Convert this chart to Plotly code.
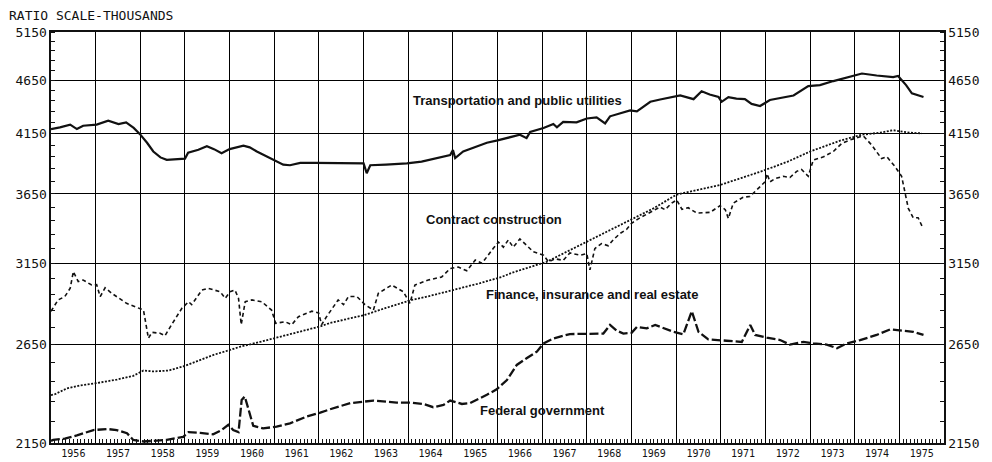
import numpy as np
import pandas as pd
import plotly.graph_objects as go

# ---------------- data (decimal year, thousands of employees) ----------------
year_labels = [str(y) for y in range(1956, 1976)]
y_ticks = [2150, 2650, 3150, 3650, 4150, 4650, 5150]
y_minor = list(range(2150, 5151, 100))

trans_t = [1956.0, 1956.2, 1956.43, 1956.58, 1956.72, 1957.02, 1957.28, 1957.51, 1957.68, 1957.85,
           1957.99, 1958.15, 1958.29, 1958.45, 1958.59, 1958.8, 1959.0, 1959.07, 1959.3, 1959.49,
           1959.65, 1959.82, 1960.0, 1960.31, 1960.45, 1960.61, 1960.8, 1960.98, 1961.2, 1961.35,
           1961.58, 1961.9, 1962.25, 1962.5, 1962.75, 1963.0, 1963.07, 1963.15, 1963.5, 1963.97,
           1964.3, 1964.49, 1964.75, 1964.94, 1965.0, 1965.05, 1965.23, 1965.5, 1965.76, 1966.0,
           1966.3, 1966.5, 1966.65, 1966.73, 1967.03, 1967.25, 1967.33, 1967.47, 1967.77, 1968.0,
           1968.22, 1968.41, 1968.52, 1968.75, 1968.97, 1969.12, 1969.42, 1969.64, 1969.85, 1970.09,
           1970.39, 1970.57, 1970.75, 1970.95, 1971.02, 1971.17, 1971.35, 1971.54, 1971.69, 1971.88,
           1972.1, 1972.35, 1972.63, 1972.96, 1973.22, 1973.52, 1973.82, 1974.04, 1974.16, 1974.49,
           1974.86, 1974.97, 1975.15, 1975.28, 1975.54]
trans_v = [4190, 4205, 4230, 4190, 4220, 4230, 4265, 4235, 4250, 4200,
           4145, 4070, 3995, 3945, 3925, 3930, 3935, 3985, 4010, 4040,
           4015, 3980, 4015, 4045, 4030, 3995, 3960, 3925, 3885, 3880,
           3900, 3900, 3900, 3895, 3900, 3895, 3815, 3880, 3885, 3895,
           3910, 3925, 3950, 3965, 4008, 3940, 3995, 4030, 4070, 4090,
           4120, 4140, 4110, 4165, 4200, 4235, 4205, 4255, 4250, 4285,
           4295, 4240, 4305, 4330, 4360, 4350, 4440, 4462, 4480, 4500,
           4465, 4540, 4510, 4485, 4440, 4485, 4470, 4465, 4420, 4400,
           4457, 4480, 4500, 4590, 4600, 4640, 4675, 4695, 4715, 4695,
           4680, 4690, 4600, 4520, 4485]

constr_t = [1956.0, 1956.16, 1956.31, 1956.43, 1956.5, 1956.61, 1956.72, 1956.91, 1957.02, 1957.1,
            1957.21, 1957.36, 1957.69, 1957.95, 1958.07, 1958.18, 1958.26, 1958.44, 1958.55, 1958.7,
            1958.93, 1959.08, 1959.15, 1959.38, 1959.52, 1959.79, 1959.9, 1960.01, 1960.12, 1960.2,
            1960.26, 1960.35, 1960.5, 1960.72, 1960.94, 1961.03, 1961.24, 1961.39, 1961.54, 1961.84,
            1961.99, 1962.06, 1962.17, 1962.43, 1962.55, 1962.66, 1962.85, 1963.03, 1963.22, 1963.33,
            1963.63, 1963.89, 1964.04, 1964.15, 1964.45, 1964.75, 1964.94, 1965.12, 1965.31, 1965.5,
            1965.65, 1965.9, 1966.02, 1966.13, 1966.24, 1966.35, 1966.5, 1966.8, 1967.03, 1967.14,
            1967.29, 1967.47, 1967.62, 1967.85, 1968.0, 1968.07, 1968.18, 1968.33, 1968.48, 1968.59,
            1968.74, 1968.89, 1969.0, 1969.19, 1969.41, 1969.64, 1969.75, 1969.9, 1970.01, 1970.13,
            1970.27, 1970.46, 1970.76, 1970.98, 1971.1, 1971.17, 1971.28, 1971.5, 1971.65, 1971.84,
            1971.99, 1972.04, 1972.1, 1972.21, 1972.4, 1972.55, 1972.7, 1972.81, 1972.96, 1973.07,
            1973.3, 1973.52, 1973.71, 1973.89, 1974.04, 1974.19, 1974.38, 1974.6, 1974.72, 1974.9,
            1975.05, 1975.2, 1975.31, 1975.42, 1975.52]
constr_v = [2845, 2914, 2935, 2987, 3095, 3030, 3040, 3008, 3010, 2935,
            2990, 2955, 2893, 2863, 2852, 2686, 2720, 2715, 2700, 2765,
            2863, 2903, 2885, 2976, 2987, 2965, 2924, 2965, 2976, 2924,
            2765, 2903, 2914, 2903, 2852, 2773, 2782, 2765, 2812, 2845,
            2835, 2765, 2812, 2914, 2885, 2935, 2935, 2885, 2852, 2955,
            3008, 2965, 2893, 3008, 3040, 3060, 3115, 3125, 3100, 3172,
            3150, 3250, 3295, 3260, 3310, 3260, 3317, 3228, 3205, 3160,
            3180, 3170, 3220, 3205, 3215, 3106, 3250, 3285, 3270, 3310,
            3355, 3385, 3430, 3470, 3510, 3550, 3530, 3580, 3604, 3533,
            3545, 3505, 3510, 3560, 3530, 3465, 3580, 3625, 3630, 3695,
            3745, 3810, 3745, 3770, 3790, 3780, 3830, 3845, 3790, 3923,
            3950, 3995, 4065, 4094, 4110, 4130, 4050, 3935, 3950, 3870,
            3790, 3540, 3470, 3470, 3400]

fin_t = [1956.0, 1956.09, 1956.35, 1956.65, 1957.02, 1957.47, 1957.84, 1958.07, 1958.29, 1958.63,
         1958.96, 1959.34, 1959.63, 1960.01, 1960.23, 1960.68, 1961.05, 1961.58, 1962.03, 1962.25,
         1962.6, 1963.03, 1963.5, 1964.08, 1964.5, 1965.01, 1965.61, 1966.09, 1966.35, 1967.1,
         1967.5, 1968.0, 1968.5, 1969.0, 1969.49, 1970.01, 1970.46, 1970.98, 1971.45, 1971.95,
         1972.5, 1973.0, 1973.67, 1974.16, 1974.57, 1974.86, 1975.24, 1975.5]
fin_v = [2380, 2385, 2414, 2430, 2442, 2460, 2480, 2508, 2503, 2508,
         2530, 2565, 2592, 2620, 2638, 2665, 2690, 2725, 2755, 2775,
         2795, 2823, 2865, 2914, 2940, 2976, 3020, 3060, 3090, 3160,
         3220, 3295, 3375, 3454, 3540, 3645, 3681, 3720, 3775, 3835,
         3910, 3995, 4088, 4140, 4158, 4180, 4158, 4152]

fed_t = [1956.0, 1956.05, 1956.31, 1956.58, 1956.95, 1957.25, 1957.47, 1957.7, 1957.84, 1958.07,
         1958.59, 1958.96, 1959.08, 1959.34, 1959.63, 1959.82, 1959.97, 1960.08, 1960.2, 1960.27,
         1960.34, 1960.42, 1960.53, 1960.75, 1961.05, 1961.35, 1961.73, 1962.03, 1962.25, 1962.7,
         1963.0, 1963.22, 1963.74, 1964.04, 1964.34, 1964.56, 1964.79, 1964.94, 1965.2, 1965.38,
         1965.76, 1965.98, 1966.21, 1966.43, 1966.65, 1966.88, 1967.03, 1967.25, 1967.62, 1968.0,
         1968.37, 1968.52, 1968.67, 1968.82, 1969.0, 1969.12, 1969.34, 1969.53, 1969.64, 1969.94,
         1970.16, 1970.35, 1970.5, 1970.72, 1971.13, 1971.47, 1971.66, 1971.77, 1972.03, 1972.33,
         1972.55, 1972.85, 1973.07, 1973.37, 1973.6, 1973.82, 1974.12, 1974.49, 1974.79, 1975.01,
         1975.31, 1975.54]
fed_v = [2160, 2164, 2170, 2185, 2210, 2215, 2210, 2195, 2164, 2157,
         2164, 2178, 2200, 2197, 2190, 2210, 2235, 2210, 2200, 2356,
         2373, 2306, 2230, 2218, 2226, 2242, 2275, 2293, 2310, 2340,
         2348, 2353, 2343, 2343, 2336, 2320, 2331, 2353, 2336, 2340,
         2382, 2410, 2458, 2538, 2574, 2611, 2657, 2685, 2710, 2713,
         2713, 2763, 2730, 2713, 2717, 2752, 2743, 2763, 2752, 2723,
         2708, 2845, 2723, 2680, 2672, 2665, 2763, 2705, 2690, 2676,
         2650, 2665, 2657, 2650, 2630, 2657, 2676, 2705, 2737, 2730,
         2723, 2705]


def to_dates(ts):
    out = []
    for t in ts:
        y = int(np.floor(t))
        out.append(pd.Timestamp(y, 1, 1) + pd.Timedelta(days=(t - y) * 365.25))
    return out


ink = "#111"
fig = go.Figure()
fig.add_trace(go.Scatter(x=to_dates(trans_t), y=trans_v, mode="lines",
                         line=dict(color=ink, width=2.2), showlegend=False,
                         name="Transportation and public utilities"))
fig.add_trace(go.Scatter(x=to_dates(constr_t), y=constr_v, mode="lines",
                         line=dict(color=ink, width=1.6, dash="4px,3px"), showlegend=False,
                         name="Contract construction"))
fig.add_trace(go.Scatter(x=to_dates(fin_t), y=fin_v, mode="lines",
                         line=dict(color=ink, width=1.8, dash="2px,1.5px"), showlegend=False,
                         name="Finance, insurance and real estate"))
fig.add_trace(go.Scatter(x=to_dates(fed_t), y=fed_v, mode="lines",
                         line=dict(color=ink, width=2.3, dash="9px,3px"), showlegend=False,
                         name="Federal government"))
# invisible carrier trace so that the right-hand axis is drawn
fig.add_trace(go.Scatter(x=to_dates(fin_t), y=fin_v, mode="lines", yaxis="y2",
                         line=dict(color="rgba(0,0,0,0)", width=0), showlegend=False,
                         hoverinfo="skip"))

yr_range = [np.log10(2150), np.log10(5150)]
mono = "DejaVu Sans Mono"
label_font = dict(family="Liberation Sans", size=13, color=ink, weight="bold")

yaxis_common = dict(
    type="log", range=yr_range, tickmode="array", tickvals=y_ticks,
    ticktext=[str(v) for v in y_ticks], ticks="", showline=True, linecolor=ink,
    linewidth=1.6, tickfont=dict(family=mono, size=13, color=ink),
    showgrid=True, gridcolor="#000", gridwidth=1,
    minor=dict(tickmode="array", tickvals=y_minor, ticks="inside", ticklen=4,
               tickcolor=ink, tickwidth=1, showgrid=False),
    zeroline=False, automargin=False,
)

fig.update_layout(
    width=992, height=462,
    margin=dict(l=51, r=48, t=32, b=19, autoexpand=False),
    paper_bgcolor="white", plot_bgcolor="white",
    xaxis=dict(
        type="date", range=["1956-01-01", "1976-01-01"],
        tick0="1956-01-01", dtick="M12", ticklabelmode="period", tickformat="%Y",
        ticks="", showgrid=True, gridcolor="#000", gridwidth=1,
        showline=True, linecolor=ink, linewidth=1.6, mirror=True,
        tickfont=dict(family=mono, size=10, color=ink),
        minor=dict(tick0="1956-01-01", dtick="M1", ticks="inside", ticklen=4,
                   tickcolor=ink, tickwidth=1, showgrid=False),
        zeroline=False, automargin=False,
    ),
    yaxis=dict(side="left", **yaxis_common),
    yaxis2=dict(side="right", overlaying="y", **yaxis_common),
    annotations=[
        dict(text="RATIO SCALE-THOUSANDS", xref="paper", yref="paper", x=0, y=1,
             xanchor="left", yanchor="middle", xshift=-44, yshift=17, showarrow=False,
             font=dict(family=mono, size=13, color=ink)),
        dict(text="Transportation and public utilities", x=to_dates([1966.44])[0],
             y=np.log10(4457), showarrow=False, xanchor="center", yanchor="middle",
             font=label_font),
        dict(text="Contract construction", x=to_dates([1965.93])[0],
             y=np.log10(3454), showarrow=False, xanchor="center", yanchor="middle",
             font=label_font),
        dict(text="Finance, insurance and real estate", x=to_dates([1968.12])[0],
             y=np.log10(2951), showarrow=False, xanchor="center", yanchor="middle",
             font=label_font),
        dict(text="Federal government", x=to_dates([1967.01])[0],
             y=np.log10(2306), showarrow=False, xanchor="center", yanchor="middle",
             font=label_font),
    ],
)

fig.write_html("out.html", config={"displayModeBar": False, "staticPlot": True},
               post_script="document.body.style.margin='0';document.body.style.overflow='hidden';")
